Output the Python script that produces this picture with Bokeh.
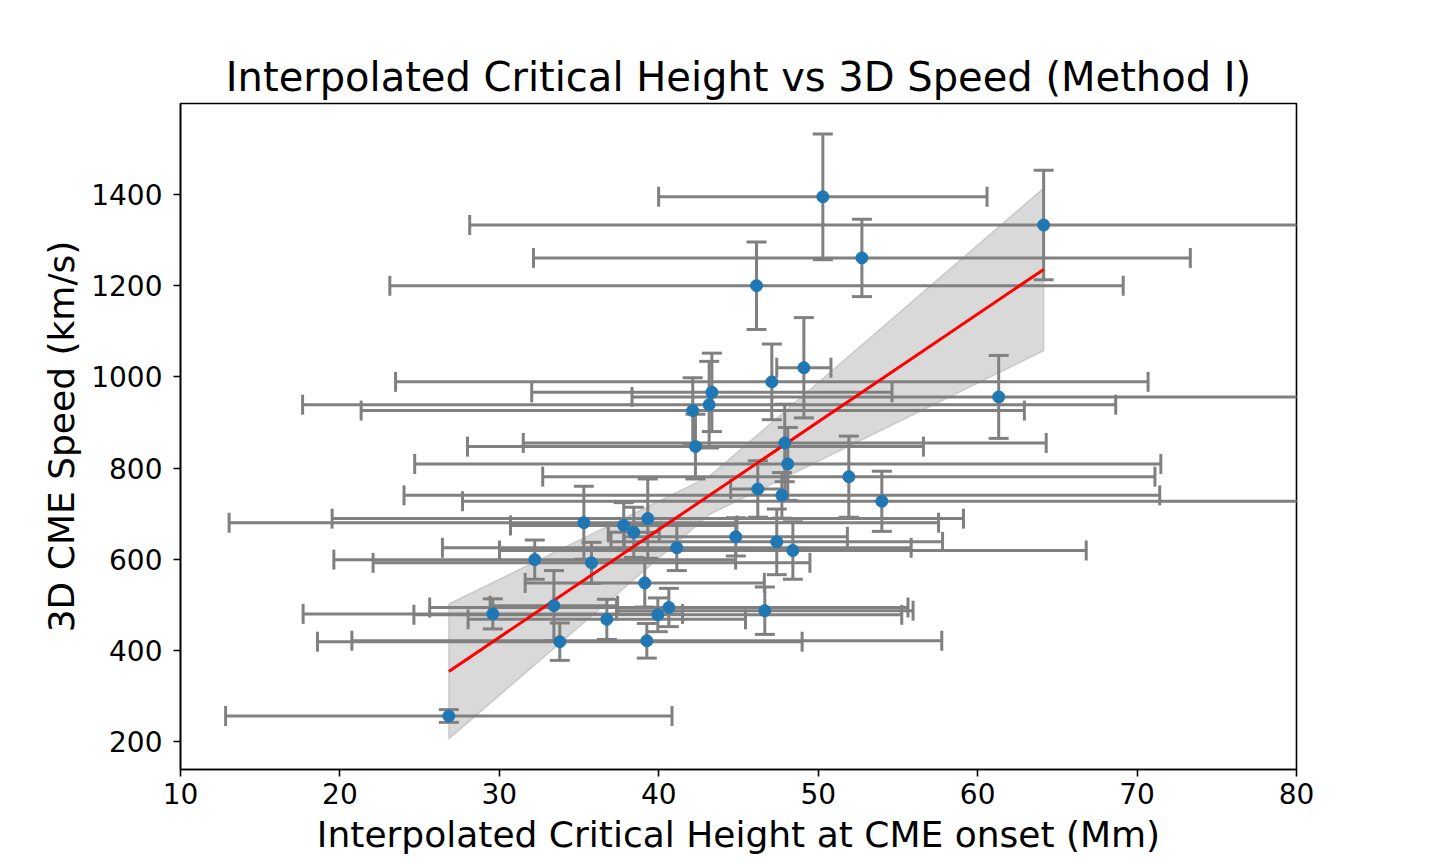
import numpy as np
from bokeh.plotting import figure
from bokeh.models import Range1d, ColumnDataSource, FixedTicker
from bokeh.embed import file_html
from bokeh.resources import INLINE

# ---- data ----
heights = [50.29, 64.14, 52.74, 46.13, 49.10, 47.09, 61.32, 43.33, 43.16, 42.13,
           47.90, 42.30, 48.09, 51.92, 46.21, 47.72, 53.99, 35.30, 39.31, 37.80,
           38.43, 44.83, 47.40, 41.13, 48.41, 32.22, 35.78, 39.12, 33.42, 40.63,
           39.94, 29.59, 46.65, 36.74, 33.79, 39.25, 26.83]
speeds = [1395, 1333, 1261, 1200, 1020, 989, 956, 966, 939, 926,
          855, 847, 809, 781, 754, 740, 727, 680, 689, 674,
          659, 649, 638, 625, 619, 599, 592, 548, 498, 494,
          478, 480, 487, 468, 419, 421, 256]
height_err = [10.3, 36.0, 20.6, 23.0, 1.7, 23.6, 23.0, 11.3, 25.5, 20.8,
              16.4, 14.3, 23.4, 19.2, 1.7, 23.7, 26.3, 22.25, 19.8, 7.1,
              1.6, 7.0, 10.4, 14.7, 18.4, 12.6, 13.7, 7.5, 4.0, 15.0,
              15.3, 11.9, 9.3, 8.7, 15.2, 18.5, 14.0]
speed_err = [138, 120, 85, 96, 110, 83, 91, 86, 95, 72,
             85, 71, 80, 89, 62, 50, 66, 80, 87, 50,
             55, 42, 72, 50, 63, 43, 45, 53, 77, 42,
             37, 33, 52, 44, 41, 38, 14]

# linear fit and its uncertainty band
fit_slope = 23.64
fit_intercept = -280.7
fit_slope_err = 6.5
fit_center_err = 42.0
fit_pivot = 43.16

x_ticks = [10, 20, 30, 40, 50, 60, 70, 80]
y_ticks = [200, 400, 600, 800, 1000, 1200, 1400]

title_text = "Interpolated Critical Height vs 3D Speed (Method I)"
x_label = "Interpolated Critical Height at CME onset (Mm)"
y_label = "3D CME Speed (km/s)"

# ---- derived arrays ----
h = np.array(heights, dtype=float)
s = np.array(speeds, dtype=float)
he = np.array(height_err, dtype=float)
se = np.array(speed_err, dtype=float)

src = ColumnDataSource(dict(
    x=h, y=s,
    xl=h - he, xr=h + he,
    yl=s - se, yu=s + se,
))

FONT = "DejaVu Sans"

p = figure(width=1440, height=864, output_backend="svg", toolbar_location=None,
           x_range=Range1d(10, 80), y_range=Range1d(138.6, 1599.7),
           min_border_left=180, min_border_right=144,
           min_border_top=103, min_border_bottom=95)

p.title.text = title_text
p.title.text_font = FONT
p.title.text_font_size = "40px"
p.title.text_font_style = "normal"
p.title.text_color = "black"
p.title.align = "center"
p.title.standoff = 7

p.grid.visible = False
p.outline_line_color = "black"
p.outline_line_width = 1.6
p.outline_line_alpha = 1.0
p.background_fill_color = "white"
p.border_fill_color = "white"

for ax in (p.xaxis[0], p.yaxis[0]):
    ax.axis_line_width = 1.6
    ax.axis_line_color = "black"
    ax.major_tick_line_width = 1.6
    ax.major_tick_line_color = "black"
    ax.major_tick_out = 7
    ax.major_tick_in = 0
    ax.minor_tick_out = 0
    ax.minor_tick_in = 0
    ax.major_label_text_font = FONT
    ax.major_label_text_font_size = "28px"
    ax.major_label_text_color = "black"
    ax.axis_label_text_font = FONT
    ax.axis_label_text_font_size = "36px"
    ax.axis_label_text_font_style = "normal"
    ax.axis_label_text_color = "black"

p.xaxis.ticker = FixedTicker(ticks=x_ticks)
p.yaxis.ticker = FixedTicker(ticks=y_ticks)
p.xaxis.axis_label = x_label
p.yaxis.axis_label = y_label
p.xaxis.major_label_standoff = 6
p.xaxis.axis_label_standoff = 7
p.yaxis.major_label_standoff = 11
p.yaxis.axis_label_standoff = 6

# confidence band (kinked envelope around the pivot)
xb = np.array([h.min(), fit_pivot, h.max()])
center = fit_intercept + fit_slope * xb
half = fit_center_err + fit_slope_err * np.abs(xb - fit_pivot)
band_x = np.concatenate([xb, xb[::-1]])
band_y = np.concatenate([center + half, (center - half)[::-1]])
p.patch(band_x, band_y, fill_color="gray", fill_alpha=0.3,
        line_color="gray", line_alpha=0.3, line_width=1.5)

# error bars
EC = "#808080"
p.segment(x0="xl", y0="y", x1="xr", y1="y", source=src, line_color=EC, line_width=3)
p.segment(x0="x", y0="yl", x1="x", y1="yu", source=src, line_color=EC, line_width=3)
# caps
p.scatter(x="x", y="yl", source=src, marker="dash", size=20, line_color=EC, line_width=3)
p.scatter(x="x", y="yu", source=src, marker="dash", size=20, line_color=EC, line_width=3)
p.scatter(x="xl", y="y", source=src, marker="dash", size=20, angle=np.pi / 2,
          line_color=EC, line_width=3)
p.scatter(x="xr", y="y", source=src, marker="dash", size=20, angle=np.pi / 2,
          line_color=EC, line_width=3)

# fit line
xf = np.array([h.min(), h.max()])
p.line(xf, fit_intercept + fit_slope * xf, line_color="red", line_width=3)

# points
p.scatter(x="x", y="y", source=src, marker="circle", size=12,
          fill_color="#1f77b4", line_color="#1f77b4", line_width=1)

open("out.html", "w").write(file_html(p, INLINE))
